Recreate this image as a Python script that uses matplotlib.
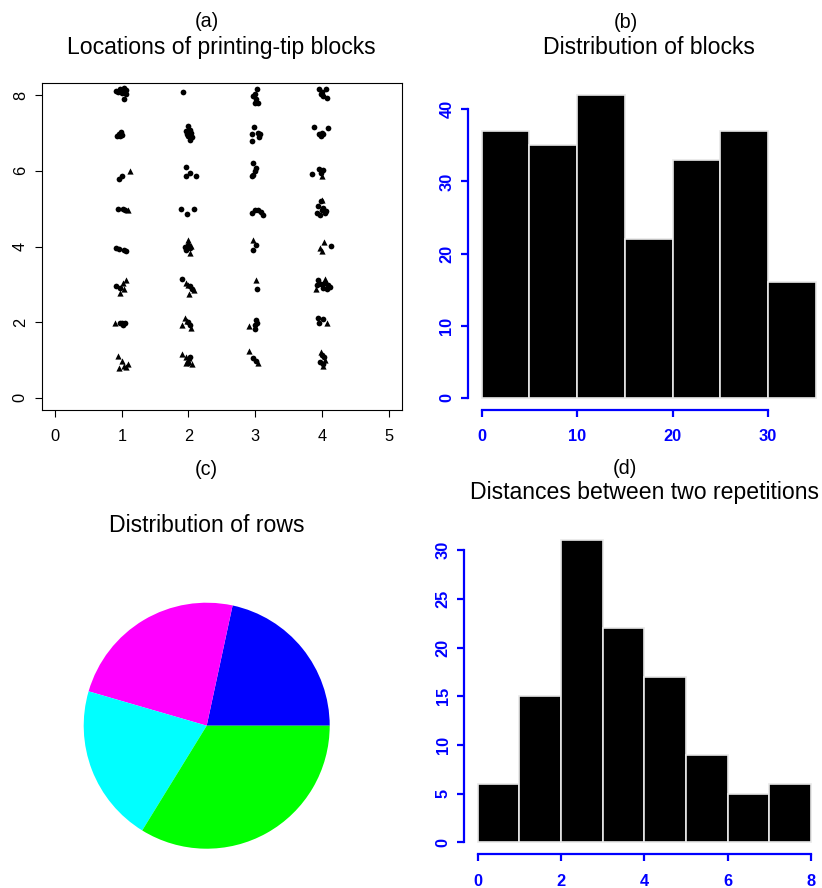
import matplotlib
matplotlib.use("Agg")
import matplotlib.pyplot as plt
import numpy as np

plt.rcParams['font.family'] = ['Liberation Sans', 'DejaVu Sans']

W, H, DPI = 822, 888, 100
BLUE = '#0000FF'

# ---- (a) spot locations: filled circles and filled triangles ----
circle_pts = [
    # row 8
    (0.92, 8.11), (0.98, 8.17), (1.03, 8.19), (1.07, 8.13), (1.01, 8.06), (1.06, 8.02), (1.03, 7.90), (0.95, 8.08),
    (1.92, 8.07),
    (3.03, 8.17), (3.00, 8.04), (2.96, 7.98), (3.01, 7.89), (3.045, 7.80), (2.995, 7.78),
    (3.96, 8.15), (4.00, 8.08), (4.06, 8.15), (4.02, 7.97), (4.07, 7.93), (3.98, 8.02),
    # row 7
    (0.93, 6.91), (0.96, 6.98), (0.995, 7.035), (1.01, 6.955), (0.97, 6.93),
    (1.995, 7.19), (2.02, 7.09), (1.97, 7.04), (2.045, 7.00), (1.995, 6.93), (2.06, 6.89), (2.02, 6.81), (1.98, 6.98),
    (2.98, 7.15), (2.945, 6.98), (3.035, 7.00), (3.07, 6.96), (3.05, 6.89), (2.955, 6.80),
    (3.88, 7.16), (4.095, 7.14), (3.96, 6.96), (4.00, 7.00), (3.98, 6.93), (4.02, 6.965),
    # row 6
    (0.96, 5.78), (1.00, 5.85),
    (1.97, 6.09), (2.02, 5.94), (1.97, 5.85), (2.12, 5.87),
    (2.97, 6.20), (3.01, 6.075), (3.00, 5.99), (2.97, 5.90), (2.945, 5.85),
    (3.845, 5.925), (3.96, 6.05), (4.01, 6.03), (3.98, 5.94),
    # row 5
    (0.945, 5.00), (1.02, 5.00), (1.045, 4.96),
    (1.895, 5.00), (1.985, 4.86), (2.085, 4.99),
    (2.945, 4.885), (2.995, 4.97), (3.045, 4.97), (3.085, 4.90), (3.12, 4.84),
    (3.98, 5.19), (3.945, 5.06), (3.995, 4.97), (4.045, 4.885), (3.92, 4.885), (3.97, 4.84), (4.02, 5.02), (4.06, 4.93),
    # row 4
    (0.91, 3.956), (0.96, 3.94), (1.03, 3.91), (1.07, 3.87),
    (1.945, 4.00), (1.995, 4.044), (2.02, 3.956), (1.97, 3.91),
    (3.01, 4.044), (2.97, 3.91),
    (4.13, 4.02),
    # row 3
    (0.91, 2.965), (0.97, 2.91),
    (1.91, 3.13), (2.06, 2.87), (2.02, 2.956),
    (3.02, 2.87),
    (3.945, 3.115), (3.98, 3.01), (4.045, 3.044), (4.095, 2.98), (4.01, 2.894), (4.07, 2.87), (3.92, 2.98), (4.12, 2.94),
    # row 2
    (0.97, 1.974), (1.01, 1.99), (1.045, 1.974), (1.02, 1.93),
    (1.995, 2.018), (2.03, 1.93),
    (3.01, 2.06), (2.995, 1.93), (2.995, 1.815), (3.02, 1.974),
    (3.945, 2.106), (4.01, 2.08), (3.96, 1.974),
    # row 1
    (1.995, 0.91), (2.03, 1.07),
    (2.97, 1.044), (3.01, 0.982),
    (3.995, 1.13), (4.03, 1.07), (3.97, 0.956), (4.02, 0.894),
]

triangle_pts = [
    (1.13, 6.00), (4.00, 5.85),
    (1.10, 4.97), (3.995, 5.24),
    (1.995, 4.18), (2.03, 3.84), (2.045, 4.02), (2.97, 4.16), (4.03, 4.13), (3.97, 3.956), (4.00, 3.87),
    (1.06, 3.115), (1.02, 3.026), (1.03, 2.87), (0.97, 2.78),
    (1.97, 3.044), (2.00, 2.98), (2.01, 2.735), (2.08, 2.85),
    (3.01, 3.115), (3.91, 2.87), (4.045, 3.13),
    (0.895, 1.99), (1.91, 1.93), (1.945, 2.106), (1.98, 2.044), (2.045, 1.84), (2.91, 1.90), (4.07, 1.974),
    (0.95, 1.106), (1.01, 0.974), (1.06, 0.823), (1.095, 0.894), (0.96, 0.78), (1.03, 0.84),
    (1.91, 1.16), (1.97, 1.07), (2.01, 1.044), (1.97, 0.91), (2.06, 0.894),
    (2.91, 1.25), (3.045, 0.93),
    (3.98, 1.22), (4.045, 1.00), (4.01, 0.84),
]

# ---- (b) histogram of block numbers ----
block_edges = [0, 5, 10, 15, 20, 25, 30, 35]
block_counts = [37, 35, 42, 22, 33, 37, 16]

# ---- (c) pie of rows ----
row_counts = [48, 53, 46, 75]
row_colors = ['#0000FF', '#FF00FF', '#00FFFF', '#00FF00']

# ---- (d) histogram of distances ----
dist_edges = [0, 1, 2, 3, 4, 5, 6, 7, 8]
dist_counts = [6, 15, 31, 22, 17, 9, 5, 6]

fig = plt.figure(figsize=(W / DPI, H / DPI), dpi=DPI)


def px_axes(left, top, right, bottom):
    return fig.add_axes([left / W, 1 - bottom / H, (right - left) / W, (bottom - top) / H])


def px_text(x, y, s, size):
    fig.text(x / W, 1 - y / H, s, ha='center', va='center', fontsize=size)


TITLE = 16.6
LABEL = 14.2
TICK = 11.8

# (a) scatter
ax = px_axes(41.7, 83, 402, 410)
cx, cy = zip(*circle_pts)
tx, ty = zip(*triangle_pts)
ax.scatter(cx, cy, s=17, marker='o', c='black', linewidths=0)
ax.scatter(tx, ty, s=20, marker='^', c='black', linewidths=0)
ax.set_xlim(-0.2, 5.2)
ax.set_ylim(-0.32, 8.32)
ax.set_xticks(range(0, 6))
ax.set_yticks(range(0, 9, 2))
for sp in ax.spines.values():
    sp.set_linewidth(0.8)
ax.tick_params(direction='out', length=5, width=0.8, labelsize=TICK)
ax.tick_params(axis='x', pad=9)
ax.tick_params(axis='y', pad=5, labelrotation=90)
for lab in ax.get_yticklabels():
    lab.set_va('center')
px_text(206.7, 21.7, '(a)', LABEL)
px_text(221.8, 47.7, 'Locations of printing-tip blocks', TITLE)


def hist_axes(ax, edges, counts, xticks, yticks, xlim, ylim):
    edges = np.asarray(edges, dtype=float)
    ax.bar(edges[:-1], counts, width=np.diff(edges), align='edge',
           color='black', edgecolor='#E8E8E8', linewidth=1.2)
    ax.set_xlim(*xlim)
    ax.set_ylim(*ylim)
    ax.set_xticks(xticks)
    ax.set_yticks(yticks)
    for side in ('top', 'right'):
        ax.spines[side].set_visible(False)
    for side in ('left', 'bottom'):
        ax.spines[side].set_color(BLUE)
        ax.spines[side].set_linewidth(1.6)
    ax.spines['bottom'].set_bounds(xticks[0], xticks[-1])
    ax.spines['left'].set_bounds(yticks[0], yticks[-1])
    ax.tick_params(direction='out', length=5, width=1.6, color=BLUE,
                   labelcolor=BLUE, labelsize=TICK)
    ax.tick_params(axis='x', pad=9)
    ax.tick_params(axis='y', pad=5, labelrotation=90)
    for lab in ax.get_xticklabels() + ax.get_yticklabels():
        lab.set_fontweight('bold')
    for lab in ax.get_yticklabels():
        lab.set_va('center')


# (b)
ax = px_axes(468.3, 82.8, 829, 410)
hist_axes(ax, block_edges, block_counts, [0, 10, 20, 30], [0, 10, 20, 30, 40],
          (-1.4, 36.4), (-1.68, 43.68))
px_text(626, 22, '(b)', LABEL)
px_text(648.6, 47.3, 'Distribution of blocks', TITLE)

# (c)
r = 123
ax = px_axes(206.7 - r, 725.7 - r, 206.7 + r, 725.7 + r)
ax.pie(row_counts, colors=row_colors, startangle=0, counterclock=True,
       radius=1, wedgeprops=dict(linewidth=0))
ax.set_xlim(-1, 1)
ax.set_ylim(-1, 1)
ax.axis('off')
px_text(206.7, 469, '(c)', LABEL)
px_text(206.5, 525.7, 'Distribution of rows', TITLE)

# (d)
ax = px_axes(464.4, 528.3, 824.4, 854.4)
hist_axes(ax, dist_edges, dist_counts, [0, 2, 4, 6, 8], [0, 5, 10, 15, 20, 25, 30],
          (-0.32, 8.32), (-1.24, 32.24))
px_text(625.3, 468, '(d)', LABEL)
px_text(644.4, 492.3, 'Distances between two repetitions', TITLE)

fig.savefig('out.png', dpi=DPI)
